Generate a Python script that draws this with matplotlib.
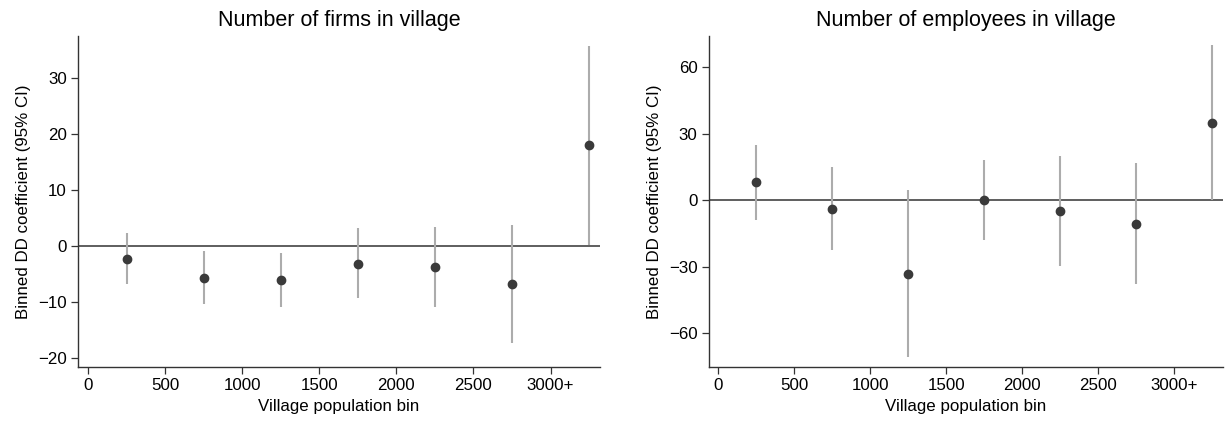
import matplotlib
matplotlib.use("Agg")
import matplotlib.pyplot as plt

plt.rcParams['font.family'] = ['Liberation Sans', 'DejaVu Sans']

# bin midpoints (village population)
bins = [250, 750, 1250, 1750, 2250, 2750, 3250]
xticks = [0, 500, 1000, 1500, 2000, 2500, 3000]
xticklabels = ['0', '500', '1000', '1500', '2000', '2500', '3000+']

# firms
firms_coef = [-2.4, -5.85, -6.15, -3.2, -3.8, -6.8, 18.0]
firms_lo = [-6.9, -10.5, -11.0, -9.4, -10.9, -17.3, 0.1]
firms_hi = [2.2, -1.0, -1.25, 3.1, 3.3, 3.7, 35.8]

# employees
emp_coef = [8.0, -3.8, -33.1, 0.0, -4.8, -10.5, 35.0]
emp_lo = [-8.7, -22.3, -70.8, -18.0, -29.5, -37.9, 0.15]
emp_hi = [24.7, 14.9, 4.7, 18.3, 19.8, 16.7, 69.8]

fig = plt.figure(figsize=(12.25, 4.21), dpi=100)
ax1 = fig.add_axes([0.0637, 0.128, 0.426, 0.7865])
ax2 = fig.add_axes([0.5784, 0.128, 0.42, 0.7865])

panels = [
    (ax1, "Number of firms in village", firms_coef, firms_lo, firms_hi,
     [-20, -10, 0, 10, 20, 30], (-21.7, 37.5)),
    (ax2, "Number of employees in village", emp_coef, emp_lo, emp_hi,
     [-60, -30, 0, 30, 60], (-75.2, 74)),
]

for ax, title, coef, lo, hi, yticks, ylim in panels:
    ax.axhline(0, color='#333333', lw=1.1, zorder=1)
    ax.vlines(bins, lo, hi, color='#acacac', lw=1.5, zorder=2)
    ax.plot(bins, coef, 'o', color='#3a3a3a', ms=6, zorder=3)
    ax.set_xlim(-65, 3320)
    ax.set_ylim(*ylim)
    ax.set_xticks(xticks)
    ax.set_xticklabels(xticklabels)
    ax.set_yticks(yticks)
    ax.set_title(title, fontsize=15.5, pad=7)
    ax.set_xlabel("Village population bin", fontsize=12.2, labelpad=4)
    ax.set_ylabel("Binned DD coefficient (95% CI)", fontsize=12.2, labelpad=5)
    for s in ['top', 'right']:
        ax.spines[s].set_visible(False)
    for s in ['left', 'bottom']:
        ax.spines[s].set_color('#333333')
        ax.spines[s].set_linewidth(1.0)
    ax.tick_params(axis='both', direction='out', length=5, width=0.9,
                   color='#333333', labelsize=12.2, pad=3)

fig.savefig("out.png", dpi=100)
